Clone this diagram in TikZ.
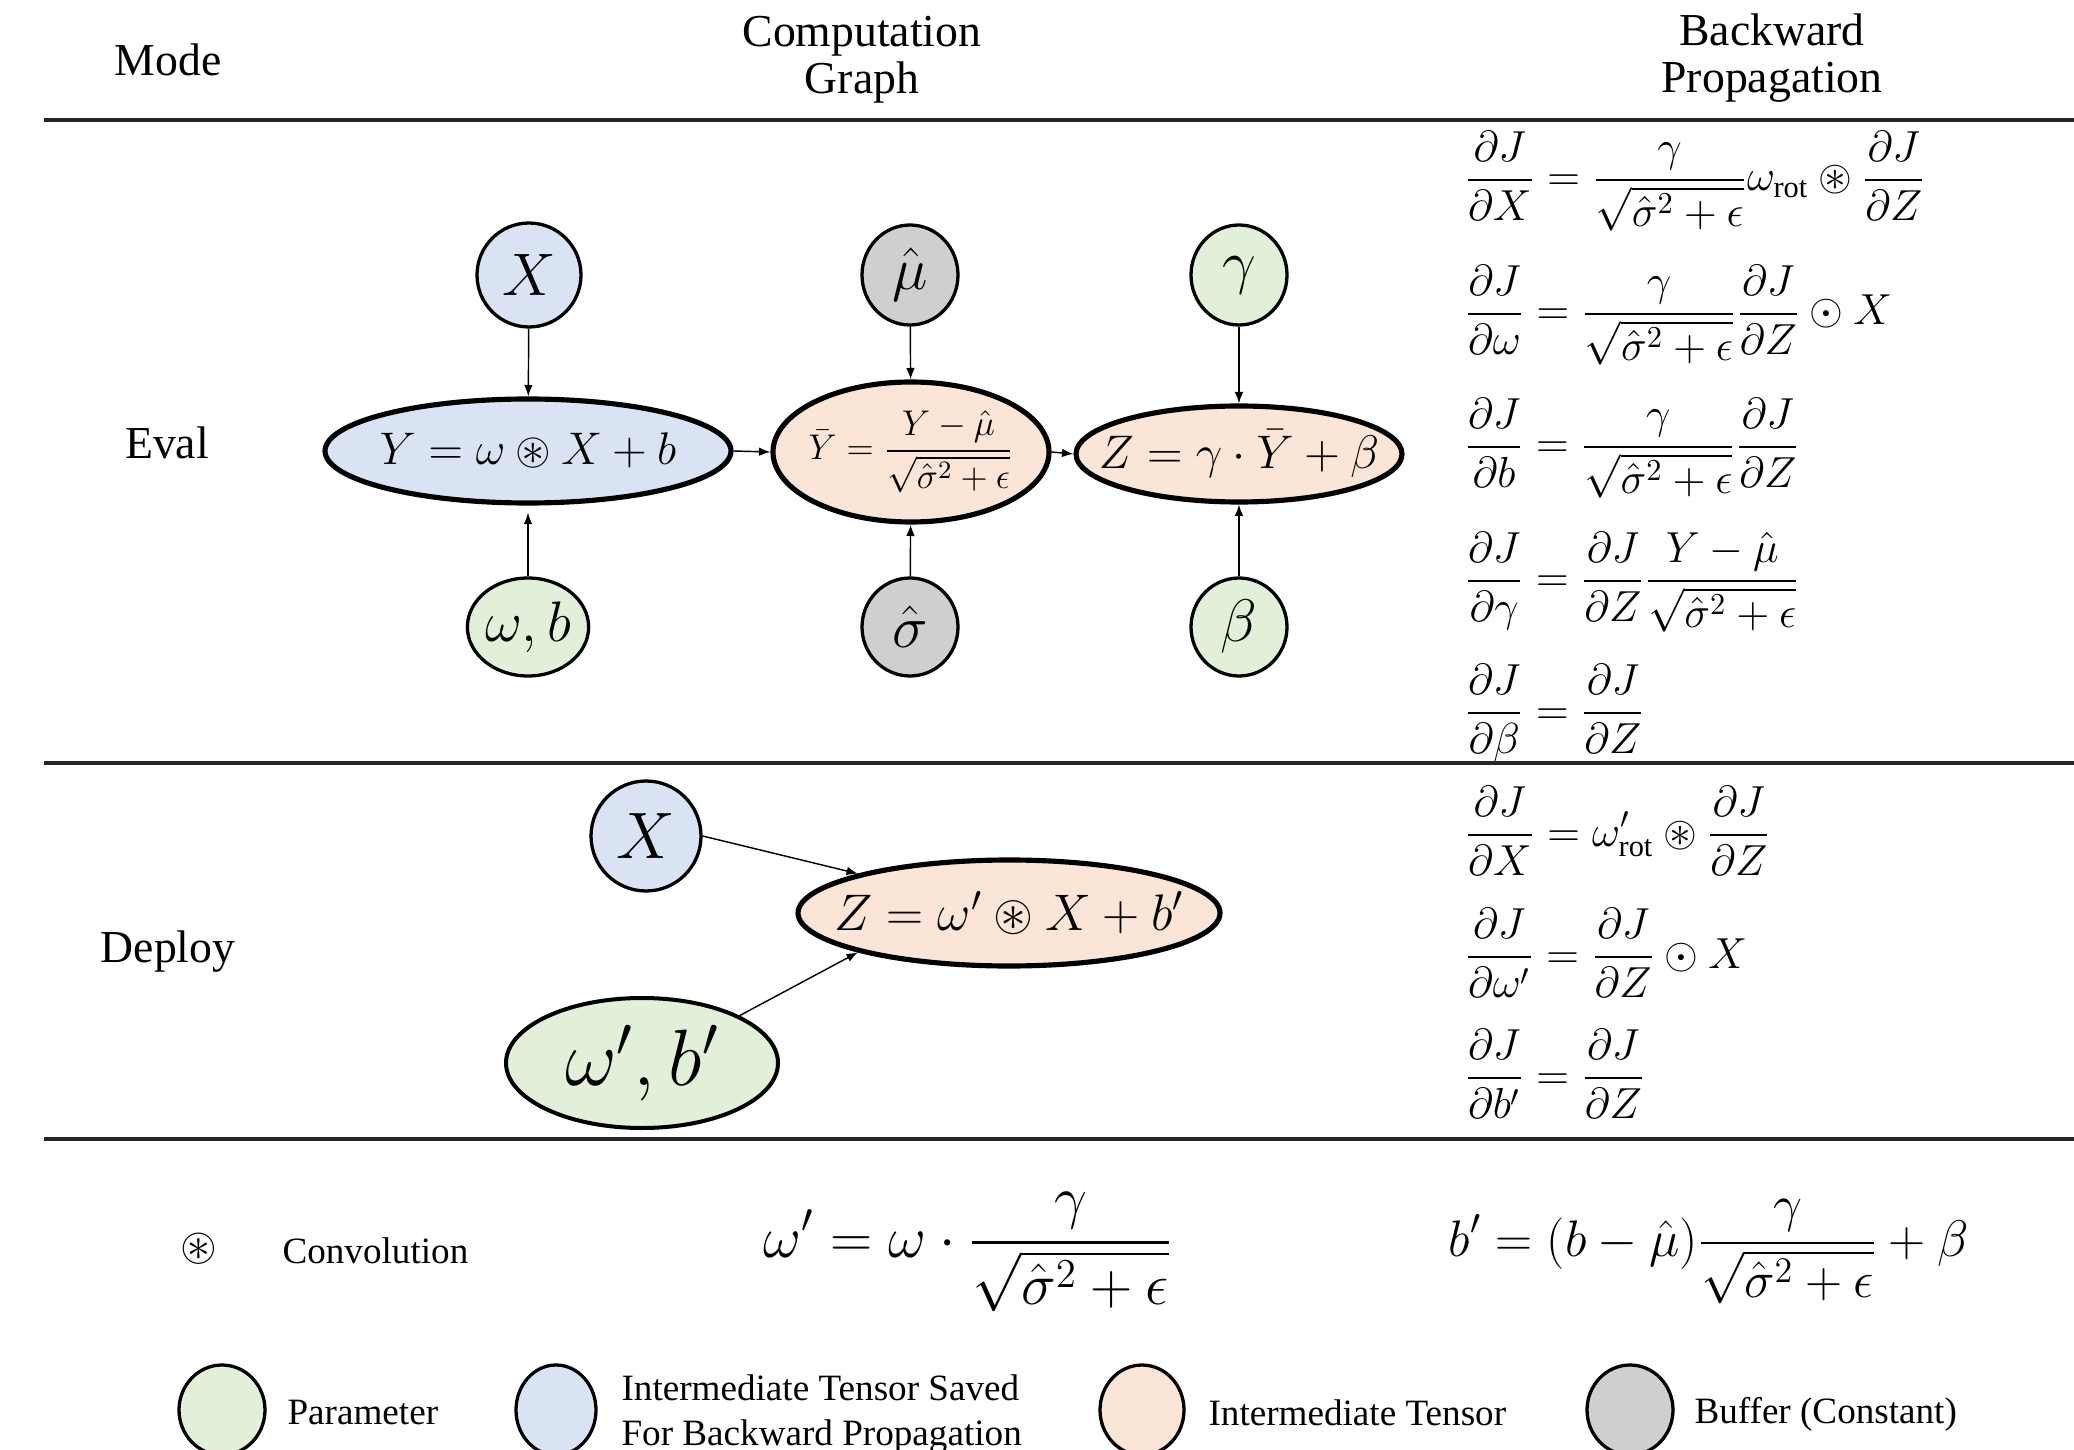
\RequirePackage{fix-cm}
\documentclass[tikz,border=0pt]{standalone}
\usepackage{amsmath,amssymb}
\usepackage{fontspec}
\setmainfont{Liberation Serif}
\usetikzlibrary{shapes.geometric,arrows.meta}
\definecolor{cblue}{HTML}{DAE3F3}
\definecolor{cgreen}{HTML}{E2F0D9}
\definecolor{corange}{HTML}{FBE5D6}
\definecolor{cgray}{HTML}{D0CECE}
\newcommand{\fs}[1]{\fontsize{#1}{1.2\dimexpr#1pt\relax}\selectfont}
\newcommand{\zw}[1]{\makebox[0pt]{#1}}
\tikzset{
  hdr/.style={font=\fontsize{16}{16.6}\selectfont, align=center, inner sep=0pt},
  lbl/.style={font=\fs{13}, align=left, inner sep=0pt},
  eqn/.style={font=\fs{15.2}, inner sep=0pt, anchor=base west},
  ell/.style={ellipse, draw=black, inner sep=0pt, line width=1.15pt},
  bigell/.style={ellipse, draw=black, inner sep=0pt, line width=1.8pt},
  param/.style={fill=cgreen},
  saved/.style={fill=cblue},
  inter/.style={fill=corange},
  buffer/.style={fill=cgray},
  conn/.style={-{Latex[length=4pt,width=3pt]}, line width=0.5pt},
  rulel/.style={line width=1.1pt, draw=black!85}
}
\begin{document}
\begin{tikzpicture}[x=0.35pt,y=-0.35pt]
\useasboundingbox (0,0) rectangle (2074,1450);
% headers
\node[hdr] (hmode) at (168,60) {Mode};
\node[hdr] (hcg) at (862,60) {Computation\\Graph};
\node[hdr] (hbp) at (1772,58) {Backward\\Propagation};
% rules
\coordinate (r1a) at (44,120); \coordinate (r1b) at (2074,120);
\coordinate (r2a) at (44,763); \coordinate (r2b) at (2074,763);
\coordinate (r3a) at (44,1139); \coordinate (r3b) at (2074,1139);
\draw[rulel] (r1a) -- (r1b);
\draw[rulel] (r2a) -- (r2b);
\draw[rulel] (r3a) -- (r3b);
% mode labels
\node[hdr] (leval) at (167,443) {Eval};
\node[hdr] (ldeploy) at (168,952) {Deploy};
% Eval graph
\node[ell, saved, minimum width=36.4pt, minimum height=36.4pt, font=\fs{21}] (x1) at (529,275) {$X$};
\node[ell, buffer, minimum width=33.6pt, minimum height=35pt, font=\fs{21}] (mu) at (910,275) {$\hat{\mu}$};
\node[ell, param, minimum width=33.6pt, minimum height=35pt, font=\fs{21}] (ga) at (1239,275) {$\gamma$};
\node[bigell, saved, minimum width=142.1pt, minimum height=36.4pt, font=\fs{16}] (yy) at (528,451) {\zw{$Y=\omega\circledast X+b$}};
\node[bigell, inter, minimum width=96.6pt, minimum height=49pt, font=\fs{12.5}] (yb) at (911,452) {\zw{$\displaystyle\bar{Y}=\frac{Y-\hat{\mu}}{\sqrt{\hat{\sigma}^2+\epsilon}}$}};
\node[bigell, inter, minimum width=114.1pt, minimum height=33.6pt, font=\fs{16.5}] (zz) at (1239,454) {\zw{$Z=\gamma\cdot\bar{Y}+\beta$}};
\node[ell, param, minimum width=42pt, minimum height=34.3pt, font=\fs{20}] (wb) at (528,627) {$\omega,b$};
\node[ell, buffer, minimum width=33.6pt, minimum height=34.3pt, font=\fs{21}] (sg) at (910,627) {$\hat{\sigma}$};
\node[ell, param, minimum width=33.6pt, minimum height=34.3pt, font=\fs{21}] (be) at (1239,627) {$\beta$};
\draw[conn] (x1) -- (yy);
\draw[conn] (mu) -- (yb);
\draw[conn] (ga) -- (zz);
\draw[conn, shorten >=2.5pt] (wb) -- (yy);
\draw[conn] (sg) -- (yb);
\draw[conn] (be) -- (zz);
\draw[conn] (yy.east) -- (yb.west);
\draw[conn] (yb.east) -- (zz.west);
% Eval equations
\node[eqn] (e1) at (1464,191) {$\displaystyle\frac{\partial J}{\partial X}=\frac{\gamma}{\sqrt{\hat{\sigma}^2+\epsilon}}\omega_{\text{rot}}\circledast\frac{\partial J}{\partial Z}$};
\node[eqn] (e2) at (1464,325) {$\displaystyle\frac{\partial J}{\partial \omega}=\frac{\gamma}{\sqrt{\hat{\sigma}^2+\epsilon}}\frac{\partial J}{\partial Z}\odot X$};
\node[eqn] (e3) at (1464,458) {$\displaystyle\frac{\partial J}{\partial b}=\frac{\gamma}{\sqrt{\hat{\sigma}^2+\epsilon}}\frac{\partial J}{\partial Z}$};
\node[eqn] (e4) at (1464,592) {$\displaystyle\frac{\partial J}{\partial \gamma}=\frac{\partial J}{\partial Z}\frac{Y-\hat{\mu}}{\sqrt{\hat{\sigma}^2+\epsilon}}$};
\node[eqn] (e5) at (1464,724) {$\displaystyle\frac{\partial J}{\partial \beta}=\frac{\partial J}{\partial Z}$};
% Deploy graph
\node[ell, saved, minimum width=38.5pt, minimum height=38.5pt, font=\fs{23}] (x2) at (646,836) {$X$};
\node[bigell, inter, minimum width=147.7pt, minimum height=37.1pt, font=\fs{18}] (z2) at (1009,913) {\zw{$Z=\omega'\circledast X+b'$}};
\node[ell, param, line width=1.4pt, minimum width=95.2pt, minimum height=45.5pt, font=\fs{28}] (wb2) at (642,1063) {\zw{$\omega',b'$}};
\draw[conn] (x2.east) -- (z2.north west);
\draw[conn] (wb2.north east) -- (z2.south west);
% Deploy equations
\node[eqn] (d1) at (1464,846) {$\displaystyle\frac{\partial J}{\partial X}=\omega'_{\text{rot}}\circledast\frac{\partial J}{\partial Z}$};
\node[eqn] (d2) at (1464,968) {$\displaystyle\frac{\partial J}{\partial \omega'}=\frac{\partial J}{\partial Z}\odot X$};
\node[eqn] (d3) at (1464,1089) {$\displaystyle\frac{\partial J}{\partial b'}=\frac{\partial J}{\partial Z}$};
% Convolution and fusion formulas
\node[inner sep=0pt, font=\fs{16.5}] (conv) at (199,1249) {$\circledast$};
\node[lbl, anchor=west] (convt) at (282,1251) {Convolution};
\node[inner sep=0pt, anchor=base west, font=\fs{20.5}] (f1) at (763,1257) {$\displaystyle\omega'=\omega\cdot\frac{\gamma}{\sqrt{\hat{\sigma}^2+\epsilon}}$};
\node[inner sep=0pt, anchor=base west, font=\fs{18}] (f2) at (1448,1256) {$\displaystyle b'=(b-\hat{\mu})\frac{\gamma}{\sqrt{\hat{\sigma}^2+\epsilon}}+\beta$};
% Legend
\node[ell, param, minimum width=30.1pt, minimum height=31.5pt] (lg1) at (222,1410) {};
\node[lbl, anchor=west] (lt1) at (287,1413) {Parameter};
\node[ell, saved, minimum width=28pt, minimum height=31.5pt] (lg2) at (556,1410) {};
\node[lbl, anchor=west] (lt2) at (621,1414) {Intermediate Tensor Saved\\For Backward Propagation};
\node[ell, inter, minimum width=29.4pt, minimum height=31.5pt] (lg3) at (1142,1410) {};
\node[lbl, anchor=west] (lt3) at (1208,1413) {Intermediate Tensor};
\node[ell, buffer, minimum width=30.1pt, minimum height=31.5pt] (lg4) at (1630,1410) {};
\node[lbl, anchor=west] (lt4) at (1694,1414) {Buffer (Constant)};
\end{tikzpicture}
\end{document}
